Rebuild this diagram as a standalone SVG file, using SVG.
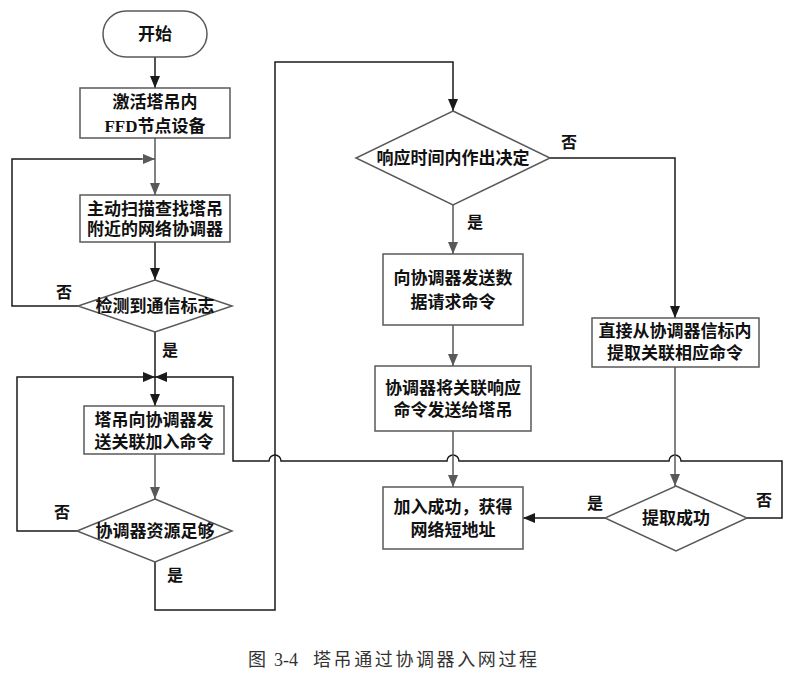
<svg xmlns="http://www.w3.org/2000/svg" width="800" height="680" viewBox="0 0 800 680">
<style>
.box{fill:#fff;stroke:#595959;stroke-width:1.5}
.t{font-family:"Liberation Sans","Noto Sans CJK SC",sans-serif;font-weight:bold;font-size:17px;fill:#111;text-anchor:middle;dominant-baseline:central}
.lb{font-family:"Liberation Sans","Noto Sans CJK SC",sans-serif;font-weight:bold;font-size:16px;fill:#111;text-anchor:middle;dominant-baseline:central}
.k{fill:none;stroke:#1a1a1a;stroke-width:1.5}
.g{fill:none;stroke:#595959;stroke-width:1.5}
.cap{font-family:"Liberation Serif","Noto Sans CJK SC",serif;font-size:18px;fill:#333}
</style>
<defs>
<marker id="ak" viewBox="0 0 12 10" refX="12" refY="5" markerWidth="12" markerHeight="10" markerUnits="userSpaceOnUse" orient="auto"><path d="M0,0 L12,5 L0,10 Z" fill="#1a1a1a"/></marker>
<marker id="ag" viewBox="0 0 12 10" refX="12" refY="5" markerWidth="12" markerHeight="10" markerUnits="userSpaceOnUse" orient="auto"><path d="M0,0 L12,5 L0,10 Z" fill="#595959"/></marker>
</defs>
<rect width="800" height="680" fill="#fff"/>
<g id="connectors">
<path class="k" d="M155,57 V88" marker-end="url(#ak)"/>
<path class="g" d="M155,138 V195" marker-end="url(#ag)"/>
<path class="k" d="M78,306 H12 V159 H142"/>
<path class="g" d="M140,159 H155" marker-end="url(#ag)"/>
<path class="k" d="M155,242 V280" marker-end="url(#ak)"/>
<path class="k" d="M155,332 V406" marker-end="url(#ak)"/>
<path class="g" d="M155,454 V499" marker-end="url(#ag)"/>
<path class="k" d="M77,531 H17 V377 H155" marker-end="url(#ak)"/>
<path class="k" d="M747,518 H782 V461 H681 A6,6 0 0 0 669,461 H459 A6,6 0 0 0 447,461 H281 A6,6 0 0 0 269,461 H233 V377 H155" marker-end="url(#ak)"/>
<path class="k" d="M155,562 V610 H275 V62 H453 V111" marker-end="url(#ak)"/>
<path class="g" d="M453,205 V254" marker-end="url(#ag)"/>
<path class="k" d="M550,158 H675 V318" marker-end="url(#ak)"/>
<path class="g" d="M453,325 V366" marker-end="url(#ag)"/>
<path class="g" d="M453,431 V487" marker-end="url(#ag)"/>
<path class="g" d="M675,367 V486" marker-end="url(#ag)"/>
<path class="k" d="M605,518 H523" marker-end="url(#ak)"/>
</g>
<g id="labels">
<text class="lb" x="64" y="292">否</text>
<text class="lb" x="170" y="350">是</text>
<text class="lb" x="62" y="512">否</text>
<text class="lb" x="175" y="575">是</text>
<text class="lb" x="569" y="142">否</text>
<text class="lb" x="475" y="222">是</text>
<text class="lb" x="595" y="503">是</text>
<text class="lb" x="764" y="500">否</text>
</g>
<g id="start">
<rect class="box" x="103" y="11" width="104" height="46" rx="23"/>
<text class="t" x="155" y="34" font-size="18">开始</text>
</g>
<g id="n1">
<rect class="box" x="80" y="88" width="150" height="50"/>
<text class="t"><tspan x="155" y="102">激活塔吊内</tspan><tspan x="155" y="126"><tspan font-family="Liberation Serif">FFD</tspan>节点设备</tspan></text>
</g>
<g id="n2">
<rect class="box" x="80" y="195" width="150" height="47"/>
<text class="t"><tspan x="155" y="209">主动扫描查找塔吊</tspan><tspan x="155" y="229">附近的网络协调器</tspan></text>
</g>
<g id="d1">
<polygon class="box" points="155,280 232,306 155,332 78,306"/>
<text class="t" x="155" y="306">检测到通信标志</text>
</g>
<g id="n3">
<rect class="box" x="84" y="406" width="140" height="48"/>
<text class="t"><tspan x="154" y="420">塔吊向协调器发</tspan><tspan x="154" y="442">送关联加入命令</tspan></text>
</g>
<g id="d2">
<polygon class="box" points="155,499 232,531 155,562 77,531"/>
<text class="t" x="155" y="531">协调器资源足够</text>
</g>
<g id="d3">
<polygon class="box" points="453,111 550,158 453,205 356,158"/>
<text class="t" x="453" y="158">响应时间内作出决定</text>
</g>
<g id="n4">
<rect class="box" x="383" y="254" width="140" height="71"/>
<text class="t"><tspan x="453" y="278">向协调器发送数</tspan><tspan x="453" y="302">据请求命令</tspan></text>
</g>
<g id="n5">
<rect class="box" x="592" y="318" width="167" height="49"/>
<text class="t"><tspan x="675" y="331">直接从协调器信标内</tspan><tspan x="675" y="353">提取关联相应命令</tspan></text>
</g>
<g id="n6">
<rect class="box" x="375" y="366" width="156" height="65"/>
<text class="t"><tspan x="453" y="388">协调器将关联响应</tspan><tspan x="453" y="410">命令发送给塔吊</tspan></text>
</g>
<g id="n7">
<rect class="box" x="383" y="487" width="140" height="62"/>
<text class="t"><tspan x="453" y="507">加入成功，获得</tspan><tspan x="453" y="530">网络短地址</tspan></text>
</g>
<g id="d4">
<polygon class="box" points="676,486 747,518 676,551 605,518"/>
<text class="t" x="676" y="518">提取成功</text>
</g>
<g id="caption">
<text class="cap" x="248" y="666">图<tspan x="274">3-4</tspan><tspan x="313" letter-spacing="2.6">塔吊通过协调器入网过程</tspan></text>
</g>
</svg>
